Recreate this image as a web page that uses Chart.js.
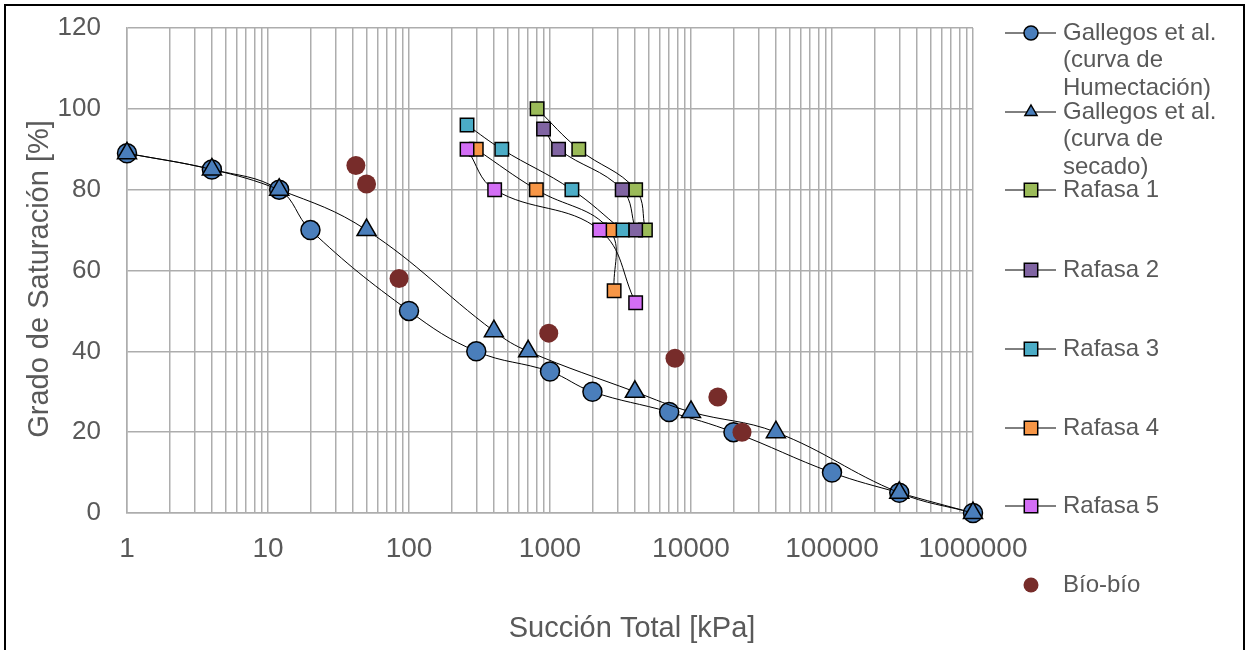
<!DOCTYPE html>
<html>
<head>
<meta charset="utf-8">
<script src="https://cdn.jsdelivr.net/npm/chart.js@4.4.1/dist/chart.umd.min.js"></script>
<style>
  body { margin: 0; background: #fff; }
  #chartContainer { width: 1246px; height: 650px; }
</style>
</head>
<body>
<div id="chartContainer"><canvas id="myChart" width="1246" height="650"></canvas></div>
<script>
// succion total [kPa] / grado de saturacion [%]
const humSuccion = [1, 4, 12, 20, 100, 300, 1000, 2000, 7000, 20000, 100000, 300000, 1000000];
const humSat = [89, 85, 80, 70, 50, 40, 35, 30, 25, 20, 10, 5, 0];
const secSuccion = [1, 4, 12, 50, 400, 700, 4000, 10000, 40000, 300000, 1000000];
const secSat = [89, 85, 80, 70, 45, 40, 30, 25, 20, 5, 0];
const raf1Succion = [810, 1600, 4050, 4750];
const raf1Sat = [100, 90, 80, 70];
const raf2Succion = [900, 1150, 3250, 4050];
const raf2Sat = [95, 90, 80, 70];
const raf3Succion = [258, 455, 1430, 3250];
const raf3Sat = [96, 90, 80, 70];
const raf4Succion = [300, 800, 2650, 2850];
const raf4Sat = [90, 80, 70, 55];
const raf5Succion = [258, 405, 2250, 4050];
const raf5Sat = [90, 80, 70, 52];
const bioSuccion = [42, 50, 85, 980, 7700, 15500, 23000];
const bioSat = [86, 81.4, 58, 44.5, 38.3, 28.7, 20];

const xTickLabels = [1, 10, 100, 1000, 10000, 100000, 1000000];
const yTickLabels = [0, 20, 40, 60, 80, 100, 120];

const seriesNames = [
    ['Gallegos et al.', '(curva de', 'Humectación)'],
    ['Gallegos et al.', '(curva de', 'secado)'],
    ['Rafasa 1'], ['Rafasa 2'], ['Rafasa 3'], ['Rafasa 4'], ['Rafasa 5'],
    ['Bío-bío']
];
const xTitle = 'Succión Total [kPa]';
const yTitle = 'Grado de Saturación [%]';

const FONT = "'Liberation Sans', Arial, sans-serif";
const TEXT = '#595959';
const GRID = '#adadad';

function pts(xs, ys) {
    return xs.map((x, i) => ({ x: x, y: ys[i] }));
}

function serie(i, xs, ys, style, fill, radius, order) {
    return {
        label: seriesNames[i].join(' '),
        data: pts(xs, ys),
        showLine: true,
        clip: false,
        borderColor: '#000',
        borderWidth: 1,
        tension: 0.4,
        pointStyle: style,
        pointRadius: radius,
        pointHoverRadius: radius,
        pointBackgroundColor: fill,
        pointBorderColor: '#000',
        pointBorderWidth: 1.5,
        order: order
    };
}

// small marker for the side legend
function marker(ctx, style, x, y, r, fill, stroke) {
    ctx.beginPath();
    if (style === 'triangle') {
        ctx.moveTo(x, y - r);
        ctx.lineTo(x + r * 0.866, y + r * 0.5);
        ctx.lineTo(x - r * 0.866, y + r * 0.5);
        ctx.closePath();
    } else if (style === 'rect') {
        const s = r * 0.707;
        ctx.rect(x - s, y - s, 2 * s, 2 * s);
    } else {
        ctx.arc(x, y, r, 0, Math.PI * 2);
    }
    ctx.fillStyle = fill;
    ctx.fill();
    if (stroke) {
        ctx.lineWidth = 1.5;
        ctx.strokeStyle = stroke;
        ctx.stroke();
    }
}

const frame = {
    id: 'frame',
    beforeDraw(chart) {
        const ctx = chart.ctx;
        ctx.save();
        ctx.fillStyle = '#fff';
        ctx.fillRect(0, 0, chart.width, chart.height);
        ctx.lineWidth = 2;
        ctx.strokeStyle = '#000';
        ctx.strokeRect(5, 5, 1239, 700);
        ctx.restore();
    }
};

// axis titles, placed like the spreadsheet original
const axisTitles = {
    id: 'axisTitles',
    afterDraw(chart) {
        const ctx = chart.ctx;
        ctx.save();
        ctx.fillStyle = TEXT;
        ctx.font = '29px ' + FONT;
        ctx.textAlign = 'center';
        ctx.textBaseline = 'alphabetic';
        ctx.fillText(xTitle, 632, 637);
        ctx.translate(48, 279);
        ctx.rotate(-Math.PI / 2);
        ctx.fillText(yTitle, 0, 0);
        ctx.restore();
    }
};

const sideLegend = {
    id: 'sideLegend',
    afterDraw(chart) {
        const ctx = chart.ctx;
        const rows = [33, 112, 190, 270, 349, 428, 506, 585];
        chart.data.datasets.forEach((ds, i) => {
            const y = rows[i];
            ctx.save();
            if (ds.showLine) {
                ctx.beginPath();
                ctx.moveTo(1005, y);
                ctx.lineTo(1056, y);
                ctx.lineWidth = 1;
                ctx.strokeStyle = '#000';
                ctx.stroke();
            }
            const lr = ds.pointStyle === 'circle' && !ds.showLine ? 7.5 : (ds.pointStyle === 'rect' ? 9.5 : 7);
            marker(ctx, ds.pointStyle, 1031, y, lr, ds.pointBackgroundColor, ds.showLine ? '#000' : null);
            ctx.fillStyle = TEXT;
            ctx.font = '24px ' + FONT;
            ctx.textBaseline = 'middle';
            seriesNames[i].forEach((t, k) => ctx.fillText(t, 1063, y + k * 27.5));
            ctx.restore();
        });
    }
};

const ctx = document.getElementById('myChart').getContext('2d');

const myChart = new Chart(ctx, {
    type: 'scatter',
    data: {
        datasets: [
            serie(0, humSuccion, humSat, 'circle', '#4a7ebb', 9.5, 7),
            serie(1, secSuccion, secSat, 'triangle', '#4a7ebb', 11, 6),
            serie(2, raf1Succion, raf1Sat, 'rect', '#9bbb59', 9.5, 5),
            serie(3, raf2Succion, raf2Sat, 'rect', '#8064a2', 9.5, 4),
            serie(4, raf3Succion, raf3Sat, 'rect', '#4bacc6', 9.5, 3),
            serie(5, raf4Succion, raf4Sat, 'rect', '#f79646', 9.5, 2),
            serie(6, raf5Succion, raf5Sat, 'rect', '#d36ef5', 9.5, 1),
            {
                label: seriesNames[7].join(' '),
                data: pts(bioSuccion, bioSat),
                showLine: false,
                clip: false,
                pointStyle: 'circle',
                pointRadius: 9.5,
                pointHoverRadius: 9.5,
                pointBackgroundColor: '#772c2a',
                pointBorderWidth: 0,
                order: 0
            }
        ]
    },
    options: {
        responsive: false,
        animation: false,
        layout: { padding: { left: 18, right: 273, top: 28, bottom: 4 } },
        plugins: {
            legend: { display: false },
            tooltip: { enabled: false }
        },
        scales: {
            x: {
                type: 'logarithmic',
                min: 1,
                max: 1000000,
                afterBuildTicks(scale) {
                    const t = [];
                    for (let e = 0; e < 6; e++) {
                        for (let m = 1; m < 10; m++) t.push({ value: m * Math.pow(10, e) });
                    }
                    t.push({ value: 1000000 });
                    scale.ticks = t;
                },
                afterFit(scale) { scale.height = 650 - 513 - 4; },
                ticks: {
                    autoSkip: false,
                    maxRotation: 0,
                    padding: 19,
                    color: TEXT,
                    font: { family: FONT, size: 28 },
                    callback: (v) => xTickLabels.includes(v) ? String(v) : ''
                },
                grid: { color: GRID, lineWidth: 1.5, drawTicks: false },
                border: { color: GRID, width: 1.5 }
            },
            y: {
                min: 0,
                max: 120,
                afterBuildTicks(scale) {
                    scale.ticks = yTickLabels.map(v => ({ value: v }));
                },
                afterFit(scale) {
                    scale.width = 127 - 18;
                    scale.paddingTop = 0;
                    scale.paddingBottom = 0;
                },
                ticks: {
                    padding: 26,
                    color: TEXT,
                    font: { family: FONT, size: 26 }
                },
                grid: { color: GRID, lineWidth: 1.5, drawTicks: false },
                border: { color: GRID, width: 1.5 }
            }
        }
    },
    plugins: [frame, axisTitles, sideLegend]
});
</script>
</body>
</html>
